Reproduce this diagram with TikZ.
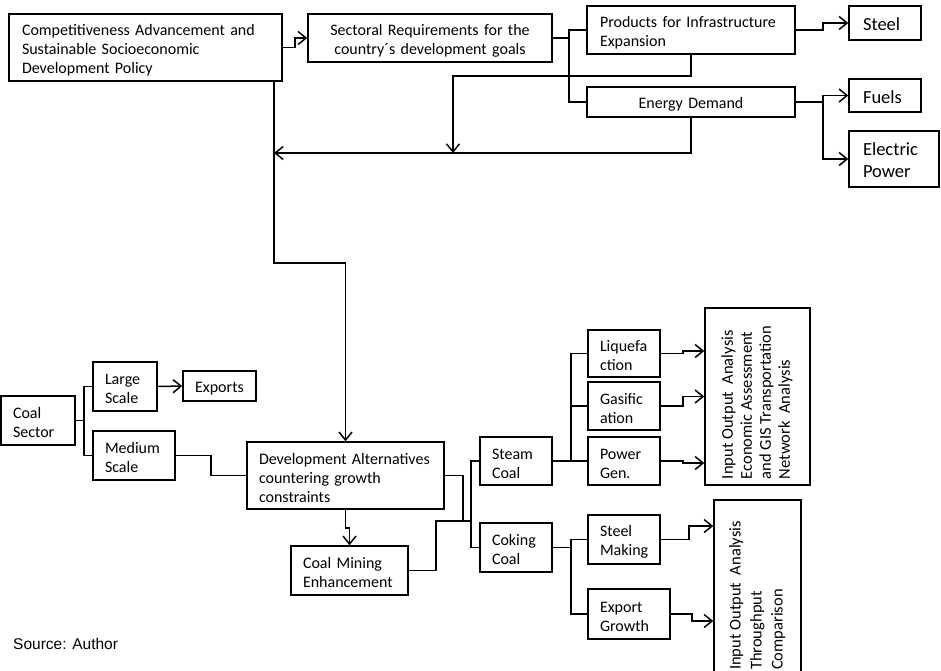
\documentclass[tikz,border=0pt]{standalone}
\usepackage{fontspec}
\setmainfont{Carlito}
\newfontfamily\srcfont{Liberation Sans}
\usetikzlibrary{arrows.meta}
\begin{document}
\begin{tikzpicture}[x=1pt,y=-1pt,
  bx/.style={draw, line width=1.5pt, inner ysep=0pt, inner xsep=12pt, font=\fontsize{16}{19}\selectfont},
  lbx/.style={bx, align=left, execute at begin node={\rule{0pt}{16pt}}},
  cbx/.style={bx, align=center, execute at begin node={\rule{0pt}{16pt}}},
  big/.style={font=\fontsize{18.5}{22}\selectfont},
  ln/.style={line width=1.5pt},
  arr/.style={ln, -{Straight Barb[length=8pt,width=13pt]}}]
\useasboundingbox (0,0) rectangle (941,670);
\clip (0,0) rectangle (941,670);
\fill[white] (0,0) rectangle (941,670);
% top part
\node[lbx, text width=247pt, inner xsep=13pt, minimum height=67pt] (comp) at (145.5,47.5)
  {Competitiveness Advancement and\\Sustainable Socioeconomic\\Development Policy};
\node[cbx, text width=220pt, minimum height=48pt] (sect) at (430,38)
  {Sectoral Requirements for the\\country´s development goals};
\node[lbx, text width=182pt, inner xsep=13pt, minimum height=48pt] (prod) at (691,30)
  {Products for Infrastructure\\Expansion};
\node[cbx, text width=182pt, inner xsep=13pt, minimum height=30pt] (en) at (691,102)
  {Energy Demand};
\node[lbx, big, text width=44pt, inner xsep=14pt, minimum height=34pt] (steel) at (885,23) {Steel};
\node[lbx, big, text width=44pt, inner xsep=14pt, minimum height=33pt] (fuels) at (885,95.5) {Fuels};
\node[lbx, big, text width=62pt, inner xsep=14pt, minimum height=56pt] (elec) at (894,159) {Electric\\Power};
% bottom left
\node[lbx, text width=50pt, minimum height=49pt] (coal) at (38,420.5) {Coal\\Sector};
\node[lbx, text width=40pt, minimum height=49pt] (large) at (125,386.5) {Large\\Scale};
\node[cbx, text width=49pt, minimum height=30pt] (exports) at (219.5,386) {Exports};
\node[lbx, text width=58pt, minimum height=49pt] (medium) at (134,455.5) {Medium\\Scale};
\node[lbx, text width=173pt, minimum height=67pt] (dev) at (345.5,475.5)
  {Development Alternatives\\countering growth\\constraints};
\node[lbx, text width=93pt, minimum height=49pt] (mining) at (349.5,570.5) {Coal Mining\\Enhancement};
% bottom right
\node[lbx, text width=48pt, minimum height=48pt] (steam) at (516,461) {Steam\\Coal};
\node[lbx, text width=48pt, minimum height=49pt] (coking) at (516,547.5) {Coking\\Coal};
\node[lbx, text width=48pt, minimum height=47pt] (liq) at (624,353.5) {Liquefa\\ction};
\node[lbx, text width=48pt, minimum height=48pt] (gas) at (624,406) {Gasific\\ation};
\node[lbx, text width=48pt, minimum height=48pt] (power) at (624,461) {Power\\Gen.};
\node[lbx, text width=48pt, minimum height=49pt] (sm) at (624,539.5) {Steel\\Making};
\node[lbx, text width=58pt, minimum height=50pt] (eg) at (629,614) {Export\\Growth};
\node[bx, font=\fontsize{16.5}{19}\selectfont, inner xsep=0pt, minimum width=105pt, minimum height=177pt] (io1) at (757.5,396.5)
  {\rotatebox{90}{\begin{tabular}{@{}l@{\hspace{12pt}}}Input Output\ \ Analysis\\Economic Assessment\\and GIS Transportation\\Network\ \ Analysis\end{tabular}}};
\node[bx, font=\fontsize{16.5}{21}\selectfont, inner xsep=0pt, minimum width=87pt, minimum height=191pt] (io2) at (757.5,595.5)
  {\rotatebox{90}{\begin{tabular}{@{}l@{}}Input Output\ \ Analysis\\Throughput\\Comparison\end{tabular}}};
\node[font=\srcfont\fontsize{15.5}{18}\selectfont, anchor=base west, inner sep=0pt] (src) at (13,649) {Source: Author};
% connectors top
\draw[arr] (comp.east) -- ++(12,0) |- (sect.west);
\draw[ln] (sect.east) -- ++(16,0) coordinate (j1);
\draw[ln] (prod.west) -| (j1) |- (en.west);
\coordinate (t1) at (453,153);
\draw[arr] (prod.south) -- ++(0,21) -| (t1);
\coordinate (t2) at (274,153);
\draw[arr] (en.south) |- (t2);
\draw[arr] ([xshift=-9pt]comp.south east) -- ++(0,181) -| (dev.north);
\draw[arr] (prod.east) -- ++(27,0) |- (steel.west);
\draw[arr] (en.east) -- ++(27,0) coordinate (j2) |- (fuels.west);
\draw[arr] (j2) |- (elec.west);
% connectors bottom left
\draw[ln] (coal.east) -- ++(8,0) coordinate (j3);
\draw[ln] (large.west) -| (j3) |- (medium.west);
\draw[arr] (large.east) -- (exports.west);
\draw[ln] (medium.east) -- ++(35,0) |- (dev.west);
\draw[arr] (dev.south) -- ++(0,18) -| (mining.north);
\coordinate (j5) at (471,521);
\draw[ln] (dev.east) -- ++(18,0) |- (j5);
\draw[ln] (mining.east) -- ++(27,0) |- (j5);
\draw[ln] (steam.west) -| (j5) |- (coking.west);
% connectors bottom right
\draw[ln] (steam.east) -- ++(18,0) coordinate (j6);
\draw[ln] (liq.west) -| (j6) -- (power.west);
\draw[ln] (gas.west) -- (gas.west -| j6);
\draw[arr] (liq.east) -- ++(22,0) |- ([yshift=45.5pt]io1.west);
\draw[arr] (gas.east) -- ++(22,0) |- (io1.west);
\draw[arr] (power.east) -- ++(22,0) |- ([yshift=-66.5pt]io1.west);
\draw[ln] (coking.east) -- ++(18,0) coordinate (j7);
\draw[ln] (sm.west) -| (j7) |- (eg.west);
\draw[arr] (sm.east) -- ++(28,0) |- ([yshift=69.5pt]io2.west);
\draw[arr] (eg.east) -- ++(21,0) |- ([yshift=-25.5pt]io2.west);
\end{tikzpicture}
\end{document}
